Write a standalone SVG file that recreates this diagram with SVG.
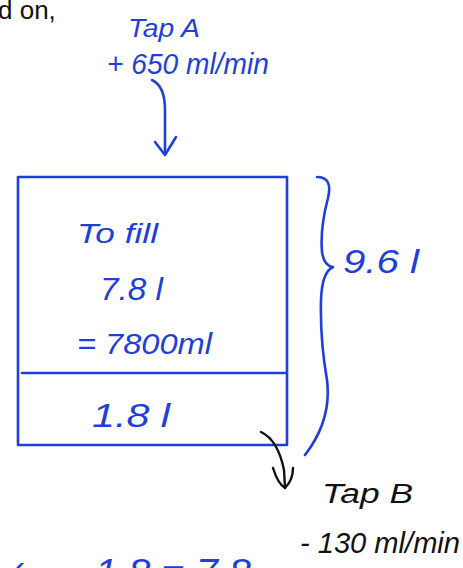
<svg xmlns="http://www.w3.org/2000/svg" width="463" height="568" viewBox="0 0 463 568">
<style>
.b{fill:#1f3fd8;font-family:"Liberation Sans",Arial,sans-serif;font-style:italic}
.k{fill:#111;font-family:"Liberation Sans",Arial,sans-serif;font-style:italic}
.ln{fill:none;stroke:#1f3fd8;stroke-width:2.6;stroke-linecap:round;stroke-linejoin:round}
.lk{fill:none;stroke:#111;stroke-width:2.4;stroke-linecap:round;stroke-linejoin:round}
</style>
<rect width="463" height="568" fill="#fff"/>
<text x="-2" y="19" font-family="'Liberation Sans',Arial,sans-serif" font-size="26" fill="#111">d on,</text>
<g id="tapA">
<text class="b" x="128" y="37" font-size="25" textLength="72" lengthAdjust="spacingAndGlyphs">Tap A</text>
<text class="b" x="107" y="74" font-size="29" textLength="162" lengthAdjust="spacingAndGlyphs">+ 650 ml/min</text>
</g>
<g id="tank">
<rect x="18" y="177" width="269" height="268" class="ln"/>
<line x1="22" y1="373" x2="285" y2="373" class="ln"/>
<text class="b" x="77" y="243" font-size="28" textLength="81" lengthAdjust="spacingAndGlyphs">To fill</text>
<text class="b" x="100" y="300" font-size="31" textLength="63" lengthAdjust="spacingAndGlyphs">7.8 l</text>
<text class="b" x="77" y="354" font-size="30" textLength="135" lengthAdjust="spacingAndGlyphs">= 7800ml</text>
<text class="b" x="92" y="427" font-size="33" textLength="78" lengthAdjust="spacingAndGlyphs">1.8 l</text>
</g>
<g id="total">
<text class="b" x="343" y="273" font-size="33" textLength="76" lengthAdjust="spacingAndGlyphs">9.6 l</text>
</g>
<g id="tapB">
<text class="k" x="322" y="503" font-size="27" textLength="91" lengthAdjust="spacingAndGlyphs">Tap B</text>
<text class="k" x="300" y="553" font-size="30" textLength="160" lengthAdjust="spacingAndGlyphs">- 130 ml/min</text>
</g>
<g id="bottom">
<text class="b" x="9" y="590" font-size="36">(</text>
<text class="b" x="95" y="586" font-size="38" textLength="156" lengthAdjust="spacingAndGlyphs">1.8 = 7.8</text>
</g>
<g id="connectors">
<path class="ln" d="M152 80 Q165 86 165 110 L165 154"/>
<path class="ln" d="M155 142 L165 155 L176 137"/>
<path class="lk" d="M261 432 Q278 440 284 470 L285 488"/>
<path class="lk" d="M273 468 Q278 484 285 488 Q293 480 293 468"/>
<path class="ln" d="M317 177 Q333 177 328 198 Q320 228 322 252 Q324 266 333 267 Q322 272 321 300 Q320 340 327 380 Q332 420 305 455"/>
</g>
</svg>
